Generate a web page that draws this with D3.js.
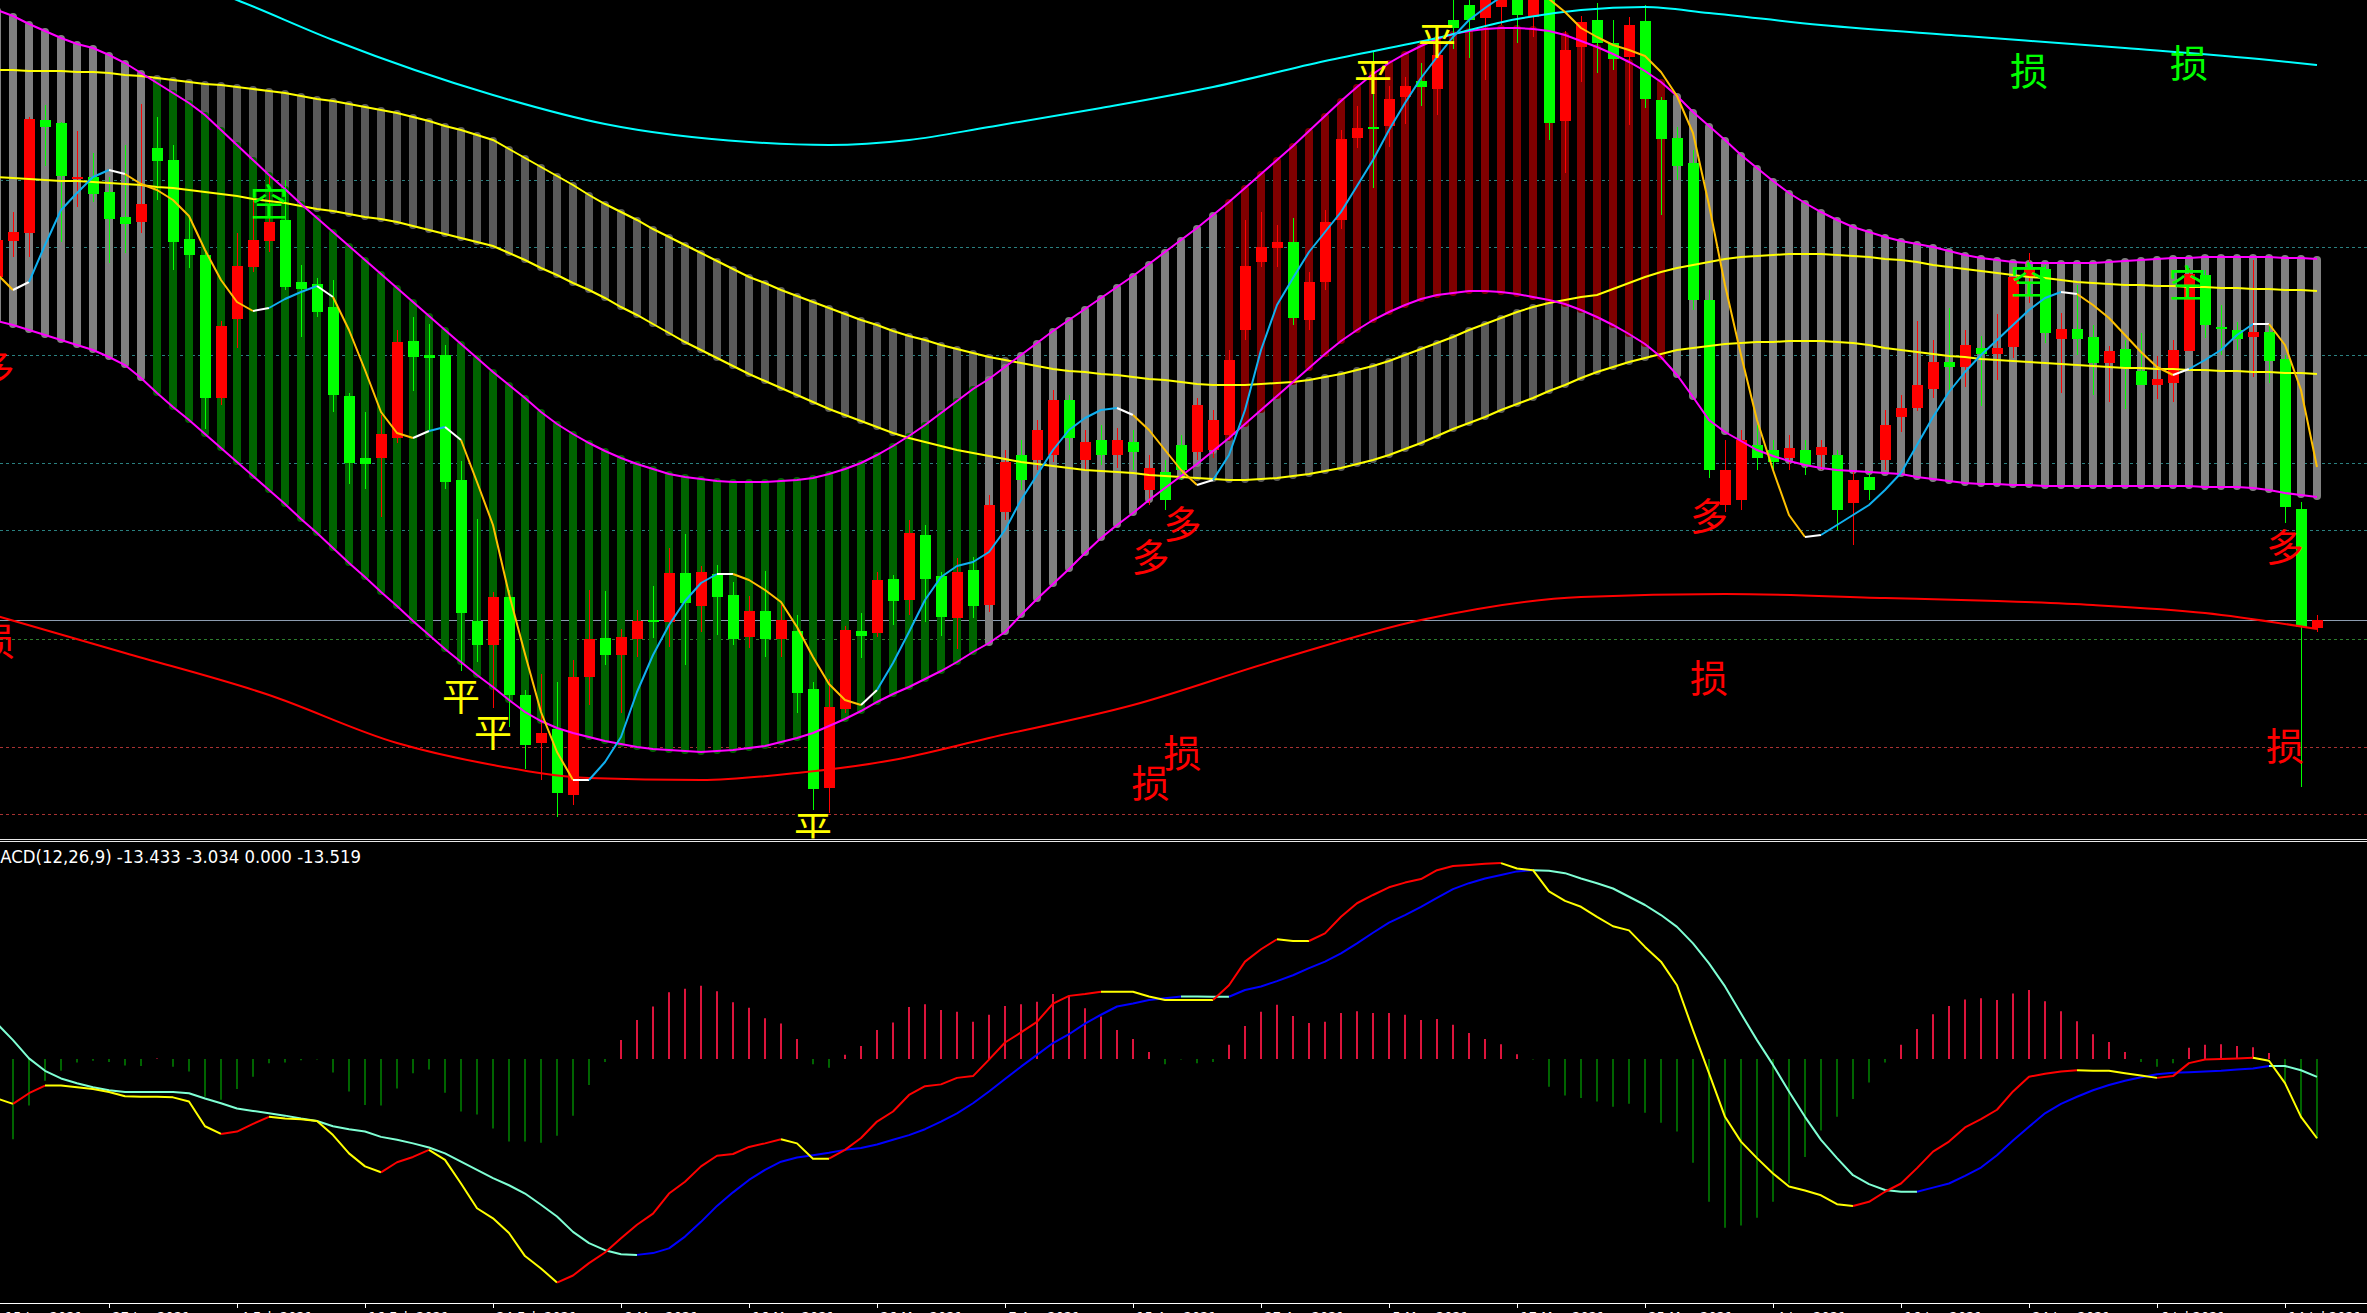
<!DOCTYPE html>
<html><head><meta charset="utf-8">
<script src="https://cdn.jsdelivr.net/npm/d3@7"></script>
<style>html,body{margin:0;padding:0;background:#000;overflow:hidden}</style>
</head><body>
<svg id="c" width="2367" height="1313"></svg>
<script>
// ---------------- DATA ----------------
const openP=[723,759,767,880,877,821,823,808,783,778,
852,840,761,745,602,681,733,759,780,718,
716,693,604,542,542,562,659,645,645,520,
379,355,403,305,257,271,205,323,362,345,
361,380,378,427,394,426,405,363,389,361,
369,311,212,291,369,367,421,400,465,424,
382,430,395,488,545,540,545,600,540,560,
545,558,510,528,555,548,550,565,670,738,
752,758,680,718,780,862,873,874,903,919,
911,980,995,982,993,1005,983,1005,879,953,
980,957,943,979,900,862,837,700,495,500,
555,550,542,550,545,545,497,523,540,583,
592,611,638,633,652,646,653,723,731,661,
671,663,637,651,629,615,617,649,725,673,
670,663,668,641,491,372];
const highP=[770,788,883,895,878,869,847,823,855,896,
883,855,783,750,679,767,800,823,820,735,
722,720,607,588,585,670,683,676,655,539,
481,408,410,310,326,318,340,410,409,371,
390,414,452,466,434,435,418,404,429,395,
385,318,321,374,387,428,425,480,475,428,
442,443,505,550,560,580,610,605,570,575,
572,570,545,540,565,602,590,650,780,788,
775,782,728,790,870,894,948,914,923,937,
953,1000,1000,1020,1025,1015,1020,1010,969,984,
997,980,983,995,903,873,850,710,560,570,
575,560,565,560,560,550,530,530,590,605,
679,660,692,670,664,686,723,747,735,687,
715,675,654,660,667,644,660,732,730,695,
678,740,675,645,498,385];
const lowP=[715,743,743,834,758,793,798,737,747,767,
800,730,732,571,595,652,728,748,710,663,
683,588,516,511,483,557,609,570,511,329,
338,292,273,231,220,183,195,295,335,287,
343,362,353,335,368,365,355,352,343,343,
287,190,187,287,342,363,375,385,378,364,
351,382,388,480,510,530,538,550,530,535,
532,530,495,490,520,540,542,560,660,733,
733,675,670,710,771,852,812,853,876,894,
885,951,942,920,975,957,963,860,827,918,
927,930,875,892,785,820,690,522,488,490,
530,530,530,525,530,470,455,500,530,568,
589,602,607,613,594,620,642,697,657,607,
645,605,598,591,615,601,598,649,662,645,
650,623,617,477,213,368];
const closeP=[760,768,881,873,824,823,806,781,776,796,
839,758,745,602,674,734,760,778,713,711,
688,605,537,536,566,658,643,642,518,387,
355,403,305,255,267,207,323,361,345,363,
379,379,427,397,428,403,361,389,361,380,
307,211,293,370,364,420,399,467,421,383,
428,394,495,538,520,570,600,562,558,545,
560,548,532,500,530,595,580,640,734,753,
758,682,718,778,861,872,872,901,914,913,
945,972,980,1010,1015,985,1010,877,950,978,
957,941,975,901,861,834,700,530,530,560,
542,538,552,535,553,490,520,510,575,592,
615,638,633,655,646,652,723,731,667,671,
661,637,649,632,615,621,650,726,675,672,
661,668,639,493,373,380];
// magenta channel
const bandUpper=[990,984,976,969,962,956,952,945,937,927,
917,907,897,885,870,855,840,825,811,796,
782,768,754,740,726,712,698,684,670,656,
642,628,615,602,588,576,566,557,549,542,
536,531,526,523,521,519,518,518,518,519,
520,522,526,531,537,545,554,564,575,587,
599,611,621,633,645,657,669,680,691,702,
713,724,736,748,760,772,785,798,812,826,
840,854,869,884,899,913,926,937,946,954,
961,966,969,971,972,972,971,969,965,959,
953,946,938,929,918,904,888,874,860,845,
832,819,807,797,788,780,773,768,763,759,
756,753,749,745,742,740,738,737,737,737,
737,737,738,739,740,741,742,742,743,743,
743,743,743,742,742,741];
const bandLower=[679,675,670,665,660,655,650,643,635,622,
607,593,580,566,552,538,524,510,496,481,
467,452,437,423,408,394,379,365,351,338,
325,313,300,288,279,272,267,263,259,256,
253,251,250,249,248,249,250,252,254,258,
262,267,274,281,289,298,306,313,321,329,
338,348,357,368,385,401,416,431,447,462,
475,487,500,512,524,536,549,562,576,590,
604,618,632,646,659,670,680,688,695,701,
705,707,709,709,708,706,703,700,696,690,
683,675,666,656,643,625,603,580,568,559,
550,544,539,535,532,530,529,528,527,526,
523,521,519,517,516,516,515,515,514,514,
514,514,514,514,514,514,514,514,513,513,
513,512,510,507,505,503];
// trend state runs of the magenta channel: [from, to, state] (-1 down, 0 flat, 1 up)
const trendRuns=[[0,9,0],[10,61,-1],[62,76,0],[77,104,1],[105,145,0]];
// yellow channel
const yelUpper=[930,930,929,929,929,928,928,927,925,924,
922,920,918,916,915,913,911,909,907,904,
901,899,896,893,890,887,883,879,874,870,
865,860,851,842,833,824,815,805,796,788,
780,771,763,755,747,739,731,723,717,710,
704,698,692,686,680,675,669,664,660,655,
651,647,643,640,637,634,631,629,628,626,
625,623,621,620,618,616,615,615,615,616,
617,618,620,623,626,630,634,639,645,651,
657,663,670,676,682,688,693,697,700,703,
705,711,717,723,728,732,735,738,741,743,
744,745,746,746,746,745,744,743,741,740,
738,735,733,731,729,727,725,723,722,720,
718,717,716,715,715,714,714,713,713,712,
712,711,711,710,710,709];
const yelLower=[823,822,821,820,819,819,818,817,816,815,
813,812,810,808,806,804,801,799,797,794,
791,789,786,783,781,778,774,770,766,762,
758,754,747,740,732,725,717,710,702,693,
685,676,667,658,650,642,634,626,619,612,
605,598,591,585,579,573,567,562,558,554,
550,547,544,541,538,536,534,532,530,529,
528,527,525,524,523,522,521,520,520,521,
522,524,526,529,532,536,540,545,551,557,
564,571,577,583,590,596,602,609,615,622,
628,633,638,642,646,650,652,654,656,657,
658,658,659,659,659,658,657,655,652,650,
648,646,644,643,641,640,639,638,637,636,
635,634,633,632,632,631,631,630,630,629,
629,628,628,627,627,626];
// short moving average
const fastMA=[726,710,718,755,790,807,823,830,826,816,
810,800,784,750,720,698,689,692,701,708,
714,703,670,630,588,567,562,569,573,560,
518,475,406,346,288,248,220,220,238,263,
308,345,375,399,417,426,426,420,410,398,
373,343,316,300,295,310,337,368,400,423,
434,438,448,470,500,525,550,570,582,590,
592,585,570,550,530,515,520,545,590,650,
695,722,748,768,788,814,840,870,897,922,
943,963,980,992,1003,1008,1006,1001,988,972,
963,955,950,944,928,904,867,795,715,645,
580,530,485,463,465,475,485,495,510,527,
555,583,608,628,645,660,675,690,702,708,
706,695,682,665,648,633,625,631,640,650,
665,676,676,655,610,533];
// long moving averages (read at sample bars)
const redMAIdx=[0,8,17,25,31,37,44,50,56,62,71,80,89,99,108,118,125,131,138,145];
const redMAVal=[384,347,305,257,235,222,220,227,240,262,295,340,380,403,406,402,399,395,387,371];
const cyanIdx=[0,7,15,21,31,38,47,52,57,62,69,76,83,90,95,99,103,107,114,123,133,142,145];
const cyanVal=[1085,1045,1000,960,905,876,858,855,860,873,892,913,939,962,981,990,993,987,975,964,952,940,935];
// horizontal levels
const levelsTeal=[820,753,645,537,470];
const levelsGreen=[361];
const levelsRed=[253,186];
const lastPrice=380;
// signal labels: [text, bar index, price, kind]
const signals=[
 ['空',17,801,'g'],['空',127,723,'g'],['空',136.9,720,'g'],
 ['损',127,932,'g'],['损',137,940,'g'],
 ['多',-0.1,635,'r'],['多',72.1,446,'r'],['多',74.1,479,'r'],['多',107,487,'r'],['多',143,456,'r'],
 ['损',-0.1,362,'r'],['损',74.1,250,'r'],['损',72.1,220,'r'],['损',107,325,'r'],['损',143,257,'r'],
 ['平',29,307,'y'],['平',31,271,'y'],['平',51,174,'y'],['平',86,927,'y'],['平',90,963,'y']];
// MACD
const dif=[-6.7,-7.6,-5.8,-4.5,-4.5,-4.8,-5.1,-5.6,-6.3,-6.4,
-6.4,-6.5,-7.2,-11.4,-12.7,-12.3,-11.0,-9.8,-10.1,-10.2,
-10.5,-12.9,-16.0,-18.2,-19.2,-17.5,-16.6,-15.4,-17.1,-21.1,
-25.3,-27.0,-29.5,-33.4,-35.5,-37.9,-36.7,-34.6,-32.8,-30.4,
-28.1,-26.2,-22.8,-20.8,-18.2,-16.4,-16.1,-14.9,-14.3,-13.6,
-14.3,-16.9,-16.9,-15.4,-13.4,-10.6,-8.9,-6.1,-4.6,-4.3,
-3.2,-2.9,-0.1,2.8,4.5,6.3,9.4,10.7,11.0,11.4,
11.4,11.4,10.6,10.0,10.0,10.0,10.0,12.5,16.5,18.6,
20.3,20.0,20.0,21.3,24.1,26.4,27.8,29.1,29.9,30.5,
32.0,32.7,32.9,33.1,33.2,32.3,32.0,28.4,26.8,25.8,
24.1,22.5,21.8,19.0,16.5,12.5,4.9,-2.4,-9.8,-14.0,
-16.8,-19.4,-21.6,-22.3,-23.1,-24.6,-24.9,-24.2,-22.5,-21.1,
-18.5,-15.7,-14.0,-11.6,-10.2,-8.6,-5.5,-3.0,-2.5,-2.1,
-1.9,-2.0,-2.0,-2.4,-2.8,-3.2,-2.9,-0.7,-0.1,0.0,
0.1,0.2,-0.3,-4.1,-9.8,-13.433];
const dea=[6.0,3.2,0.1,-2.0,-3.3,-4.1,-4.8,-5.3,-5.6,-5.6,
-5.6,-5.6,-5.8,-6.7,-7.5,-8.4,-8.8,-9.2,-9.6,-10.1,
-10.5,-11.4,-11.9,-12.3,-13.2,-13.7,-14.3,-15.0,-16.0,-17.4,
-18.8,-20.2,-21.4,-22.8,-24.7,-26.7,-29.3,-31.2,-32.4,-33.1,
-33.2,-32.9,-32.1,-30.1,-27.6,-24.9,-22.6,-20.5,-18.8,-17.4,
-16.7,-16.3,-15.9,-15.4,-15.1,-14.5,-13.7,-12.9,-11.9,-10.6,
-9.2,-7.5,-5.5,-3.4,-1.3,0.7,2.7,4.2,6.0,7.5,
8.9,9.4,10.0,10.3,10.6,10.6,10.55,10.55,11.7,12.3,
13.2,14.2,15.4,16.5,17.9,19.6,21.4,23.1,24.4,25.8,
27.3,28.8,29.8,30.6,31.2,31.8,32.0,31.9,31.5,30.6,
29.8,28.9,27.5,26.1,24.4,22.4,19.6,16.2,12.3,7.7,
3.2,-1.0,-5.5,-9.8,-13.7,-16.8,-19.7,-21.2,-22.2,-22.5,
-22.5,-21.8,-21.1,-19.8,-18.4,-16.3,-13.8,-11.5,-9.2,-7.6,
-6.4,-5.3,-4.4,-3.7,-3.1,-2.6,-2.35,-2.25,-2.1,-2.0,
-1.8,-1.6,-1.2,-1.2,-1.9,-3.034];
const hist=[-15,-13.6,-7.9,-3.7,-2.0,-0.6,-0.3,-0.5,-1.1,-1.2,
0.1,-1.3,-2.1,-6.4,-6.9,-5.1,-3.0,-0.7,-0.6,-0.2,
-0.1,-2.3,-5.5,-7.8,-7.9,-5.0,-2.4,-1.8,-5.7,-8.9,
-9.4,-11.8,-14.0,-14.0,-14.2,-13.0,-9.6,-4.4,-0.5,3.2,
6.6,8.9,11.3,11.9,12.4,11.5,9.6,8.7,6.9,6.0,
3.4,-0.9,-1.5,0.7,2.2,4.9,6.2,8.8,9.3,8.3,
8.0,6.3,7.5,9.0,9.3,9.7,11.0,10.7,8.6,7.2,
4.9,3.4,1.2,-0.9,-0.1,-0.7,-0.5,2.4,5.6,8.0,
9.2,7.3,6.1,6.3,7.8,8.1,7.8,7.8,7.5,6.6,
6.8,5.8,4.4,3.4,2.5,0.8,-0.1,-4.7,-6.2,-6.6,
-7.2,-8.1,-7.6,-9.1,-10.8,-12.3,-17.6,-24.2,-28.6,-28.2,
-26.9,-24.2,-21.1,-16.6,-12.1,-9.8,-6.8,-4.0,-0.6,2.4,
5.1,7.6,9.0,10.1,10.3,10.0,11.1,11.7,9.8,8.1,
6.4,4.2,2.9,1.2,-0.5,-1.3,-0.7,1.9,2.4,2.5,
2.2,2.0,1.0,-4.1,-10.1,-13.519];
const macdTitle='MACD(12,26,9) -13.433 -3.034 0.000 -13.519';
// time axis
const tickIdx=[7,15,23,31,39,47,55,63,71,79,87,95,103,111,119,127,135,143];
const tickLabels=['27 Jan 2021','4 Feb 2021','16 Feb 2021','24 Feb 2021','8 Mar 2021','16 Mar 2021','26 Mar 2021','7 Apr 2021','15 Apr 2021','27 Apr 2021','5 May 2021','17 May 2021','25 May 2021','4 Jun 2021','16 Jun 2021','24 Jun 2021','6 Jul 2021','14 Jul 2021'];
const leadLabel='15 Jan 2021';

// ---------------- DRAW ----------------
const W=2367,H=1313,N=openP.length;
const idx=d3.range(N);
const svg=d3.select('#c');
svg.append('rect').attr('width',W).attr('height',H).attr('fill','#000');
const x=d3.scaleLinear().domain([0,N-1]).range([-3,2317]);
const y=d3.scaleLinear().domain([162,1000]).range([838,0]);
const my=d3.scaleLinear().domain([-40,35]).range([1295,852.5]);

const defs=svg.append('defs');
defs.append('clipPath').attr('id','cm').append('rect').attr('x',0).attr('y',0).attr('width',W).attr('height',838.5);
defs.append('clipPath').attr('id','cd').append('rect').attr('x',0).attr('y',843).attr('width',W).attr('height',460);

const g=svg.append('g').attr('clip-path','url(#cm)');
function hline(gg,v,col,dash){
  const yy=Math.round(y(v))+0.5;
  gg.append('line').attr('x1',0).attr('x2',W).attr('y1',yy).attr('y2',yy)
    .attr('stroke',col).attr('stroke-width',1).attr('stroke-dasharray',dash||null);
}
levelsTeal.forEach(v=>hline(g,v,'#2a8080','3,3'));
levelsGreen.forEach(v=>hline(g,v,'#2e7d2e','3,3'));
levelsRed.forEach(v=>hline(g,v,'#a83232','3,3'));
hline(g,lastPrice,'#8c9cb0',null);

// yellow channel columns
g.append('g').selectAll('rect').data(idx).join('rect')
  .attr('x',i=>x(i)-4).attr('width',8)
  .attr('y',i=>y(yelUpper[i])-3).attr('height',i=>y(yelLower[i])-y(yelUpper[i])+6)
  .attr('rx',4).attr('fill','#5a5a5a');
// magenta channel columns
function stateOf(i){for(const r of trendRuns){if(i>=r[0]&&i<=r[1])return r[2];}return 0;}
const stateCol={'-1':'#006400','0':'#808080','1':'#800000'};
g.append('g').selectAll('rect').data(idx).join('rect')
  .attr('x',i=>x(i)-4).attr('width',8)
  .attr('y',i=>y(bandUpper[i])-3).attr('height',i=>y(bandLower[i])-y(bandUpper[i])+6)
  .attr('rx',4).attr('fill',i=>stateCol[stateOf(i)]);

// candles
const cg=g.append('g');
cg.selectAll('line').data(idx).join('line')
  .attr('x1',i=>x(i)+0.5).attr('x2',i=>x(i)+0.5)
  .attr('y1',i=>y(highP[i])).attr('y2',i=>y(lowP[i]))
  .attr('stroke',i=>closeP[i]>=openP[i]?'#ff0000':'#00ff00').attr('stroke-width',1);
cg.selectAll('rect').data(idx).join('rect')
  .attr('x',i=>x(i)-5).attr('width',11)
  .attr('y',i=>y(Math.max(openP[i],closeP[i])))
  .attr('height',i=>Math.max(2,Math.abs(y(openP[i])-y(closeP[i]))))
  .attr('fill',i=>closeP[i]>=openP[i]?'#ff0000':'#00ff00');

// channel lines
const lineP=arr=>d3.line().x(i=>x(i)).y(i=>y(arr[i]));
[[yelUpper,'#ffff00'],[yelLower,'#ffff00'],[bandUpper,'#ff00ff'],[bandLower,'#ff00ff']].forEach(([a,c])=>{
  g.append('path').attr('d',lineP(a)(idx)).attr('fill','none').attr('stroke',c).attr('stroke-width',2);
});
// long MAs
const cyanPts=cyanIdx.map((d,k)=>[d,cyanVal[k]]);
g.append('path').attr('d',d3.line().x(d=>x(d[0])).y(d=>y(d[1])).curve(d3.curveMonotoneX)(cyanPts))
  .attr('fill','none').attr('stroke','#00ffff').attr('stroke-width',2);
const redPts=redMAIdx.map((d,k)=>[d,redMAVal[k]]);
g.append('path').attr('d',d3.line().x(d=>x(d[0])).y(d=>y(d[1])).curve(d3.curveMonotoneX)(redPts))
  .attr('fill','none').attr('stroke','#ff0000').attr('stroke-width',2);

// segmented line helper
function segLine(gg,data,ys,colorFn,w){
  const runs=[];let cur=null;
  for(let i=1;i<data.length;i++){
    const c=colorFn(i);
    if(!cur||cur.c!==c){cur={c:c,pts:[i-1]};runs.push(cur);}
    cur.pts.push(i);
  }
  runs.forEach(r=>{
    gg.append('path').attr('d',d3.line().x(i=>x(i)).y(i=>ys(data[i]))(r.pts))
      .attr('fill','none').attr('stroke',r.c).attr('stroke-width',w).attr('stroke-linejoin','round');
  });
}
// fast MA: blue rising, orange falling, white on turns
const dir=i=>Math.sign(fastMA[i]-fastMA[i-1]);
segLine(g,fastMA,y,i=>{
  const d=dir(i);
  if(d===0) return '#ffffff';
  if(i>1){const p=dir(i-1); if(p!==0&&p!==d) return '#ffffff';}
  return d>0?'#10b0f0':'#ffc000';
},2);

// signal labels
const sigCol={g:'#00ff00',r:'#ff0000',y:'#ffff00'};
g.append('g').selectAll('text').data(signals).join('text')
  .attr('x',d=>x(d[1])).attr('y',d=>y(d[2]))
  .attr('text-anchor','middle').attr('dominant-baseline','central')
  .attr('fill',d=>sigCol[d[3]])
  .style('font-family','"Noto Sans CJK SC","Noto Sans CJK JP",sans-serif').style('font-size','38px')
  .text(d=>d[0]);

// separator
svg.append('line').attr('x1',0).attr('x2',W).attr('y1',839.5).attr('y2',839.5).attr('stroke','#e8e8e8');
svg.append('line').attr('x1',0).attr('x2',W).attr('y1',841.5).attr('y2',841.5).attr('stroke','#e8e8e8');

// MACD panel
const md=svg.append('g').attr('clip-path','url(#cd)');
md.selectAll('line').data(idx).join('line')
  .attr('x1',i=>x(i)).attr('x2',i=>x(i))
  .attr('y1',my(0)).attr('y2',i=>my(hist[i]))
  .attr('stroke',i=>hist[i]>=0?'#dc143c':'#006400').attr('stroke-width',2);
segLine(md,dea,my,i=>dea[i]>dea[i-1]?'#0000ff':'#7fffd4',2);
segLine(md,dif,my,i=>dif[i]>dif[i-1]?'#ff0000':'#ffff00',2);
svg.append('text').attr('x',-14).attr('y',863).attr('fill','#ffffff')
  .attr('textLength',375).attr('lengthAdjust','spacingAndGlyphs')
  .style('font-family','"DejaVu Sans",sans-serif').style('font-size','17px').text(macdTitle);

// time axis
svg.append('line').attr('x1',0).attr('x2',W).attr('y1',1303.5).attr('y2',1303.5).attr('stroke','#ffffff');
const ax=svg.append('g').attr('transform','translate(0,1303)')
  .call(d3.axisBottom(x).tickValues(tickIdx).tickFormat((d,k)=>tickLabels[k]).tickSize(5).tickSizeOuter(0));
ax.select('.domain').remove();
ax.selectAll('line').attr('stroke','#ffffff');
ax.selectAll('text').attr('fill','#ffffff').attr('text-anchor','start').attr('x',3).attr('y',9)
  .style('font-family','"DejaVu Sans",sans-serif').style('font-size','13px');
svg.append('text').attr('x',5).attr('y',1303+9).attr('dy','0.71em').attr('fill','#ffffff')
  .style('font-family','"DejaVu Sans",sans-serif').style('font-size','13px').text(leadLabel);
</script>
</body></html>
